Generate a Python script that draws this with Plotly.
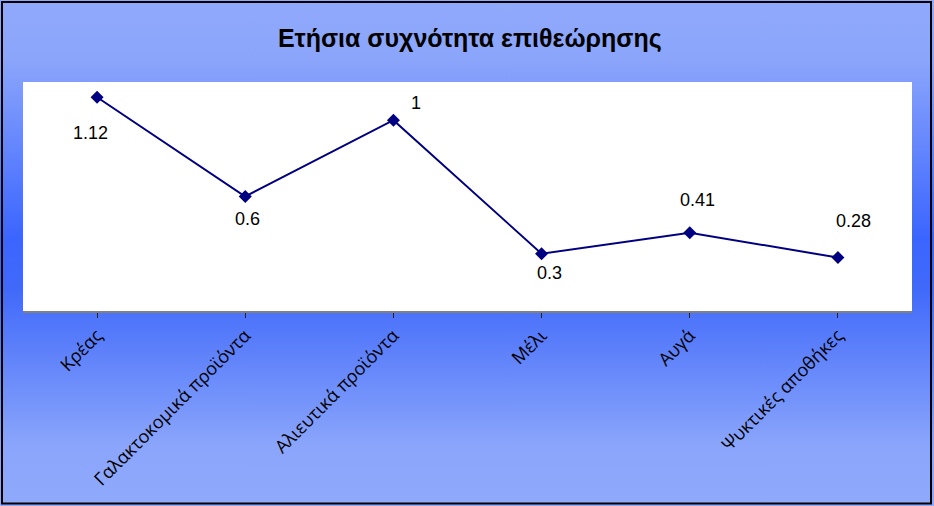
import base64
import plotly.graph_objects as go

# ---- data ----
categories = ["Κρέας", "Γαλακτοκομικά προϊόντα", "Αλιευτικά προϊόντα", "Μέλι", "Αυγά", "Ψυκτικές αποθήκες"]
values = [1.12, 0.6, 1, 0.3, 0.41, 0.28]
value_labels = ["1.12", "0.6", "1", "0.3", "0.41", "0.28"]
title_text = "Ετήσια συχνότητα επιθεώρησης"

# ---- style / layout ----
label_shift_x = [-7, 2, 23, 8, 8, 16]
label_shift_y = [-36, -22, 17, -19, 33, 37]

W, H = 934, 506
ML, MR, MT, MB = 23, 22, 82, 195
PW, PH = W - ML - MR, H - MT - MB

svg = f'''<svg xmlns="http://www.w3.org/2000/svg" width="{W}" height="{H}" preserveAspectRatio="none">
<defs><linearGradient id="g" x1="0" y1="0" x2="0" y2="1">
<stop offset="0" stop-color="#90a9fb"/>
<stop offset="0.12" stop-color="#8ba5fb"/>
<stop offset="0.47" stop-color="#3b65ff"/>
<stop offset="0.57" stop-color="#4069fa"/>
<stop offset="0.88" stop-color="#8aa5fb"/>
<stop offset="1" stop-color="#8fa9fb"/>
</linearGradient></defs>
<rect x="0" y="0" width="{W}" height="{H}" fill="url(#g)"/>
</svg>'''
src = "data:image/svg+xml;base64," + base64.b64encode(svg.encode()).decode()

def px_x(p):
    return (p - ML) / PW

def px_y(p):
    return 1 - (p - MT) / PH

x_idx = list(range(len(categories)))

fig = go.Figure()
fig.add_trace(go.Scatter(
    x=x_idx, y=values, mode="lines+markers",
    line=dict(color="#000080", width=2),
    marker=dict(symbol="diamond", size=10, color="#000080"),
    hoverinfo="skip", showlegend=False, cliponaxis=False,
))

for i, (v, t) in enumerate(zip(values, value_labels)):
    fig.add_annotation(
        x=x_idx[i], y=v, text=t, showarrow=False,
        xshift=label_shift_x[i], yshift=label_shift_y[i],
        font=dict(family="Liberation Sans, Arial", size=18, color="black"),
    )

fig.add_layout_image(dict(
    source=src, xref="paper", yref="paper",
    x=px_x(0), y=px_y(0), sizex=W / PW, sizey=H / PH,
    xanchor="left", yanchor="top", sizing="stretch", layer="below",
))

# white plot area
fig.add_shape(type="rect", xref="x domain", yref="y domain",
              x0=0, x1=1, y0=0, y1=1, line=dict(width=0),
              fillcolor="white", layer="below")

# outer black border
fig.add_shape(type="rect", xref="paper", yref="paper",
              x0=px_x(2), x1=px_x(931), y0=px_y(503.5), y1=px_y(2),
              line=dict(color="black", width=2), fillcolor="rgba(0,0,0,0)", layer="above")

fig.update_layout(
    width=W, height=H,
    margin=dict(l=ML, r=MR, t=MT, b=MB),
    paper_bgcolor="#8fa9fb",
    plot_bgcolor="white",
    title=dict(text=title_text, x=0.503, xanchor="center", y=1 - 38 / H, yanchor="middle",
               font=dict(family="Liberation Sans, Arial", size=25, color="black", weight="bold")),
    xaxis=dict(
        range=[-0.5, len(categories) - 0.5],
        tickmode="array", tickvals=x_idx, ticktext=categories,
        tickangle=-45, tickson="boundaries", ticks="outside", ticklen=5,
        tickcolor="#222222", tickwidth=1,
        showline=True, linecolor="#808080", linewidth=2,
        showgrid=False, zeroline=False,
        tickfont=dict(family="Open Sans", size=18, color="black"),
    ),
    yaxis=dict(range=[0, 1.2], visible=False, showgrid=False, zeroline=False),
)

fig.write_html("out.html", config={"displayModeBar": False},
               post_script="document.body.style.margin='0';document.body.style.overflow='hidden';")
